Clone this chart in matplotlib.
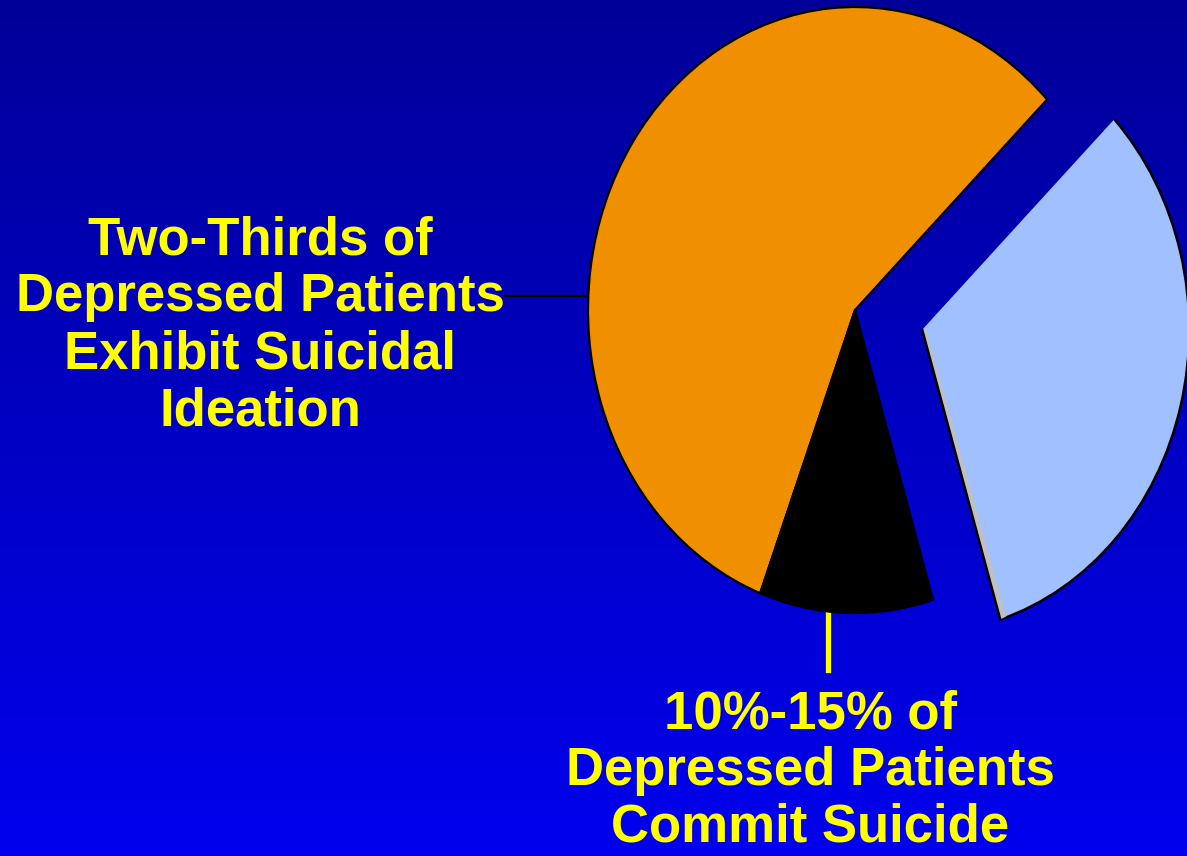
import numpy as np
import matplotlib.pyplot as plt
from matplotlib.patches import Arc, Polygon
from matplotlib.colors import LinearSegmentedColormap

# Data
slice_names = ["Ideation only", "Commit suicide", "No suicidal ideation"]
slice_values = [57, 10.5, 32.5]
slice_colors = ["#F09000", "#000000", "#A0C0FF"]
slice_explode = [0, 0, 0.26]
label_ideation = "Two-Thirds of\nDepressed Patients\nExhibit Suicidal\nIdeation"
label_suicide = "10%-15% of\nDepressed Patients\nCommit Suicide"

W, H = 1187, 856
fig = plt.figure(figsize=(W / 100, H / 100), dpi=100)

# Background gradient (pixel coordinates, y down)
bg = fig.add_axes([0, 0, 1, 1])
bg.set_xlim(0, W)
bg.set_ylim(H, 0)
bg.axis("off")
grad = np.linspace(0, 1, 256).reshape(-1, 1)
cmap_bg = LinearSegmentedColormap.from_list("bg", ["#000098", "#0000EE"])
bg.imshow(grad, cmap=cmap_bg, aspect="auto", extent=[0, W, H, 0], zorder=0)

# Pie axes: elliptical pie, rx=267px, ry=303px, centre (855, 310)
cx, cy, rx, ry, L = 855, 310, 267, 303, 1.3
ax = fig.add_axes([(cx - L * rx) / W, 1 - (cy + L * ry) / H,
                   2 * L * rx / W, 2 * L * ry / H])
wedges, _ = ax.pie(slice_values, colors=slice_colors, explode=slice_explode,
                   startangle=44, counterclock=True,
                   wedgeprops=dict(edgecolor="black", linewidth=1.6))
ax.set_aspect("auto")
ax.set_xlim(-L, L)
ax.set_ylim(-L, L)
ax.axis("off")

# Blue slice: no outline on top edge, black arc + grey side on lower edge
blue = wedges[2]
blue.set_linewidth(0)
bxc, byc = blue.center
ax.add_patch(Arc((bxc, byc), 2 * blue.r, 2 * blue.r, theta1=blue.theta1,
                 theta2=blue.theta2, color="black", lw=1.8, zorder=3))
t = np.deg2rad(blue.theta1)
ex, ey = bxc + blue.r * np.cos(t), byc + blue.r * np.sin(t)
ax.add_patch(Polygon([(bxc, byc), (ex, ey), (ex + 0.022, ey + 0.01), (bxc + 0.018, byc - 0.01)],
                     closed=True, facecolor="#C0C0C0", edgecolor="none", zorder=3))
ax.plot([bxc, ex], [byc, ey], color="black", lw=1.8, zorder=4)

# Labels and leader lines
bg.plot([505, 590], [296, 296], color="black", lw=1.6, zorder=2)
bg.plot([828, 828], [613, 670], color="#FFFF00", lw=3.8, zorder=2)

txt = dict(color="#FFFF00", fontsize=38, fontweight="bold", family="Liberation Sans",
           ha="center", va="center", linespacing=1.18, zorder=5)
bg.text(260, 326, label_ideation, **txt)
bg.text(810, 771, label_suicide, **dict(txt, linespacing=1.16))

fig.savefig("out.png", dpi=100)
